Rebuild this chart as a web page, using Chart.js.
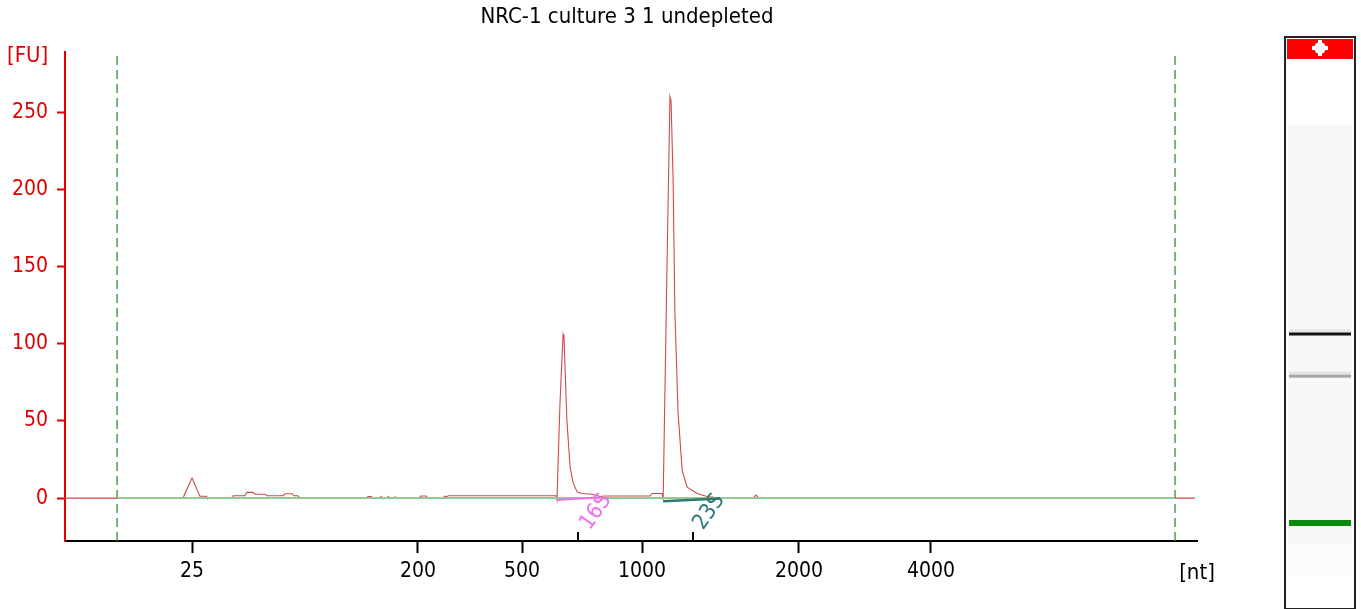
<!DOCTYPE html>
<html>
<head>
<meta charset="utf-8">
<script src="https://cdn.jsdelivr.net/npm/chart.js@4/dist/chart.umd.min.js"></script>
<style>
  html, body { margin: 0; padding: 0; background: #fff; }
  #wrap { width: 1361px; height: 609px; }
</style>
</head>
<body>
<div id="wrap"><canvas id="c" width="1361" height="609"></canvas></div>
<script>
// migration time (s) vs fluorescence (FU)
const traceTime = [19.00, 24.21, 24.61, 24.96, 25.23, 25.27,
  26.38, 26.42, 26.95, 27.04, 27.30, 27.39, 27.83, 27.92, 28.63, 28.72, 29.03, 29.11, 29.29, 29.38,
  32.30, 32.38, 32.52, 32.60, 32.91, 32.96, 33.00, 33.22, 33.27, 33.31, 33.53, 33.58, 33.62,
  34.64, 34.72, 34.95, 35.03, 35.70, 35.78, 35.83, 35.92, 40.69,
  40.73, 40.86, 41.00, 41.04, 41.17, 41.31, 41.44, 41.62, 41.84, 42.28, 42.63, 42.85, 44.84, 44.93, 45.33, 45.37, 45.42,
  45.59, 45.72, 45.77, 45.86, 45.94, 46.08, 46.26, 46.48, 46.92, 47.36, 47.93,
  49.39, 49.52, 49.66, 68.91];
const traceFU = [0, 0, 13, 1.2, 1.2, 0,
  0, 1.5, 1.5, 3.7, 3.7, 2.5, 2.5, 1.5, 1.5, 2.8, 2.8, 1.5, 1.5, 0,
  0, 1, 1, 0, 0, 1, 0, 0, 1, 0, 0, 0.8, 0,
  0, 1.3, 1.3, 0, 0, 1.3, 0.5, 1.5, 1.5,
  -1, 60, 106, 104, 50, 20, 10, 4, 3, 2.5, 1, 1.3, 1.3, 3, 3, 3, -1,
  150, 260, 257, 206, 120, 55, 18, 7, 3, 1, 0,
  0, 2, 0, 0];

// baseline and peak areas
const baselineTime = [21.30, 68.03];
const baselineFU = [0, 0];
const peak16STime = [40.73, 42.70];
const peak16SFU = [-1.3, 0.5];
const peak23STime = [45.42, 47.93];
const peak23SFU = [-2, -0.3];

// axis
const sizeTickTime = [24.61, 34.59, 39.19, 44.49, 51.42, 57.25];
const sizeTickLabels = ['25', '200', '500', '1000', '2000', '4000'];
const fuTicks = [0, 50, 100, 150, 200, 250];
const markerTime = [21.30, 68.03];
const peakNames = ['16S', '23S'];
const peakMarkTime = [41.66, 46.74];
const peakLabelTime = [42.45, 47.45];

// gel lane bands (ladder marker, 16S, 23S)
const gelBandTime = [24.57, 41.00, 45.72];

const xMin = 19, xMax = 69, yMin = -27.8, yMax = 288.9;
const FONT = "'DejaVu Sans Condensed', 'Liberation Sans', sans-serif";

function pts(xs, ys) { return xs.map((x, i) => ({ x: x, y: ys[i] })); }

Chart.defaults.font.family = FONT;

const extras = {
  id: 'extras',
  afterDraw(chart) {
    const ctx = chart.ctx;
    const xs = chart.scales.x, ys = chart.scales.y;
    const a = chart.chartArea;
    ctx.save();
    // title
    ctx.fillStyle = '#000';
    ctx.font = '22px ' + FONT;
    ctx.textAlign = 'center';
    ctx.textBaseline = 'middle';
    ctx.fillText('NRC-1 culture 3 1 undepleted', 627, 17);
    // units
    ctx.fillStyle = '#e00000';
    ctx.font = '22px ' + FONT;
    ctx.textAlign = 'left';
    ctx.fillText('[FU]', 7, 56);
    ctx.fillStyle = '#000';
    ctx.textAlign = 'center';
    ctx.fillText('[nt]', a.right, 573);
    // peak marks on axis
    ctx.strokeStyle = '#000';
    ctx.lineWidth = 2;
    peakMarkTime.forEach(t => {
      const px = Math.round(xs.getPixelForValue(t));
      ctx.beginPath();
      ctx.moveTo(px, a.bottom);
      ctx.lineTo(px, a.bottom - 9);
      ctx.stroke();
    });
    // peak labels
    const labelColors = ['#f06ef0', '#2e7a7a'];
    peakNames.forEach((name, i) => {
      ctx.save();
      ctx.translate(xs.getPixelForValue(peakLabelTime[i]), ys.getPixelForValue(-9));
      ctx.rotate(-55 * Math.PI / 180);
      ctx.fillStyle = labelColors[i];
      ctx.font = '22px ' + FONT;
      ctx.textAlign = 'center';
      ctx.textBaseline = 'middle';
      ctx.fillText(name, 0, 0);
      ctx.restore();
    });
    // gel lane
    const gx = 1286, gw = 68, gt = 38, gb = 606;
    ctx.fillStyle = '#fff';
    ctx.fillRect(gx, gt, gw, gb - gt);
    ctx.fillStyle = '#f8f8f8';
    ctx.fillRect(gx + 2, 125, gw - 4, 420);
    ctx.fillStyle = '#fbfbfb';
    ctx.fillRect(gx + 2, 545, gw - 4, 30);
    const gelY = t => 334 + (45.72 - t) * 8.936;
    const bandStyle = [
      { c: '#0b8a0b', h: 6 },
      { c: '#a6a6a6', h: 3 },
      { c: '#111', h: 3 }
    ];
    gelBandTime.forEach((t, i) => {
      const y = gelY(t);
      const s = bandStyle[i];
      if (i > 0) {
        ctx.fillStyle = '#e4e4e4';
        ctx.fillRect(gx + 3, y - s.h / 2 - 3, gw - 6, 3);
      }
      ctx.fillStyle = s.c;
      ctx.fillRect(gx + 3, y - s.h / 2, gw - 6, s.h);
    });
    ctx.fillStyle = '#ff0000';
    ctx.fillRect(gx + 1, gt + 1, gw - 2, 20);
    ctx.fillStyle = '#fff';
    ctx.beginPath();
    ctx.arc(1320, 48, 6, 0, Math.PI * 2);
    ctx.fill();
    ctx.fillRect(1318, 40, 4, 16);
    ctx.fillRect(1312, 46, 16, 4);
    ctx.strokeStyle = '#222';
    ctx.lineWidth = 2;
    ctx.strokeRect(gx - 1, gt - 1, gw + 2, gb - gt + 4);
    ctx.restore();
  }
};

new Chart(document.getElementById('c'), {
  type: 'line',
  data: {
    datasets: [
      { data: pts(peak16STime, peak16SFU), borderColor: '#f06ef0', borderWidth: 2 },
      { data: pts(peak23STime, peak23SFU), borderColor: '#2e7a6a', borderWidth: 2.5 },
      { data: pts(baselineTime, baselineFU), borderColor: '#94c894', borderWidth: 2 },
      { data: pts(traceTime, traceFU), borderColor: '#d24848', borderWidth: 1.1 },
      { data: pts([markerTime[0], markerTime[0]], [yMin, yMax]), borderColor: '#2f8f2f', borderWidth: 1.3, borderDash: [9, 5] },
      { data: pts([markerTime[1], markerTime[1]], [yMin, yMax]), borderColor: '#2f8f2f', borderWidth: 1.3, borderDash: [9, 5] }
    ]
  },
  options: {
    responsive: false,
    animation: false,
    devicePixelRatio: 1,
    layout: { padding: { left: 8, top: 52, right: 164, bottom: 0 } },
    elements: { point: { radius: 0 }, line: { tension: 0, fill: false } },
    plugins: { legend: { display: false }, title: { display: false }, tooltip: { enabled: false } },
    scales: {
      x: {
        type: 'linear', min: xMin, max: xMax,
        afterFit: s => { s.height = 68; },
        afterBuildTicks: s => { s.ticks = sizeTickTime.map(v => ({ value: v })); },
        border: { display: true, color: '#000', width: 2 },
        grid: { drawOnChartArea: false, drawTicks: true, tickLength: 12, tickColor: '#000', tickWidth: 2 },
        ticks: { color: '#000', font: { size: 21 }, padding: 6, maxRotation: 0, autoSkip: false,
          callback: (v, i) => sizeTickLabels[i] }
      },
      y: {
        type: 'linear', min: yMin, max: yMax,
        afterFit: s => { s.width = 57; },
        afterBuildTicks: s => { s.ticks = fuTicks.map(v => ({ value: v })); },
        border: { display: true, color: '#e00000', width: 2 },
        grid: { drawOnChartArea: false, drawTicks: true, tickLength: 8, tickColor: '#e00000', tickWidth: 2 },
        ticks: { color: '#e00000', font: { size: 21 }, padding: 9 }
      }
    }
  },
  plugins: [extras]
});
</script>
</body>
</html>
